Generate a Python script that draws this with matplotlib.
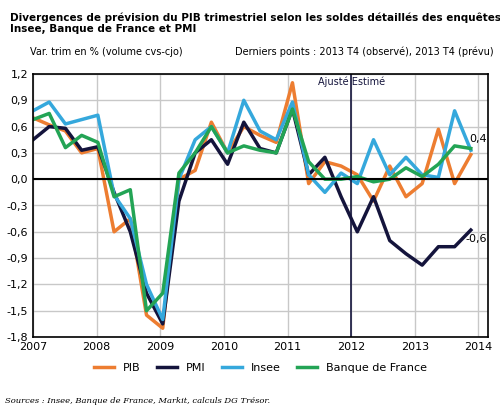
import matplotlib
matplotlib.use("Agg")
import matplotlib.pyplot as plt
import numpy as np

x = 2007 + np.arange(28) * (6.88 / 27)
pib = [0.7,0.62,0.55,0.3,0.35,-0.6,-0.45,-1.55,-1.7,0.0,0.1,0.65,0.3,0.6,0.5,0.42,1.1,-0.05,0.2,0.15,0.05,-0.25,0.15,-0.2,-0.05,0.57,-0.05,0.28]
pmi = [0.45,0.6,0.58,0.33,0.37,-0.15,-0.6,-1.3,-1.65,-0.25,0.3,0.45,0.17,0.65,0.35,0.3,0.8,0.05,0.25,-0.2,-0.6,-0.2,-0.7,-0.85,-0.98,-0.77,-0.77,-0.58]
insee = [0.78,0.88,0.63,0.68,0.73,-0.18,-0.45,-1.2,-1.6,0.0,0.45,0.6,0.3,0.9,0.55,0.45,0.88,0.05,-0.15,0.07,-0.05,0.45,0.05,0.25,0.05,0.02,0.78,0.33]
bdf = [0.68,0.75,0.36,0.5,0.42,-0.2,-0.12,-1.5,-1.3,0.07,0.3,0.6,0.3,0.38,0.33,0.3,0.8,0.2,0.0,0.0,0.03,-0.03,0.0,0.13,0.03,0.17,0.38,0.35]
yticks = [1.2,0.9,0.6,0.3,0.0,-0.3,-0.6,-0.9,-1.2,-1.5,-1.8]
years = list(range(2007, 2015))

fig = plt.figure(figsize=(5, 4.11), dpi=100)
ax = fig.add_axes([0.066, 0.18, 0.91, 0.64])
ax.plot(x, pib, color="#ED7D31", lw=2.5, label="PIB")
ax.plot(x, pmi, color="#14143C", lw=2.5, label="PMI")
ax.plot(x, insee, color="#35A8DC", lw=2.5, label="Insee")
ax.plot(x, bdf, color="#23A455", lw=2.5, label="Banque de France")
ax.axhline(0, color="black", lw=1.5)
ax.axvline(2012, color="#14143C", lw=1.2)
ax.set_xlim(2007, 2014.15)
ax.set_ylim(-1.8, 1.2)
ax.set_yticks(yticks)
ax.set_yticklabels([f"{v:.1f}".replace(".", ",") for v in yticks], fontsize=8)
ax.set_xticks(years)
ax.set_xticklabels([str(y) for y in years], fontsize=8)
ax.grid(True, color="#C8C8C8", lw=1)
ax.set_axisbelow(True)
ax.tick_params(length=0)
for s in ax.spines.values():
    s.set_linewidth(1.2)
ax.text(2012, 1.07, "Ajusté Estimé", ha="center", fontsize=7, color="#14143C")
ax.text(2013.85, 0.42, "0,4", fontsize=8)
ax.text(2013.8, -0.72, "-0,6", fontsize=8)
fig.text(0.02, 0.97, "Divergences de prévision du PIB trimestriel selon les soldes détaillés des enquêtes\nInsee, Banque de France et PMI",
         fontsize=7.5, fontweight="bold", va="top")
fig.text(0.06, 0.865, "Var. trim en % (volume cvs-cjo)", fontsize=7)
fig.text(0.47, 0.865, "Derniers points : 2013 T4 (observé), 2013 T4 (prévu)", fontsize=7)
ax.legend(loc="upper center", bbox_to_anchor=(0.5, -0.06), ncol=4, frameon=False, fontsize=8, handlelength=1.8, columnspacing=1.5)
fig.text(0.01, 0.02, "Sources : Insee, Banque de France, Markit, calculs DG Trésor.", fontsize=6, style="italic", family="serif")
fig.savefig("out.png", dpi=100)
